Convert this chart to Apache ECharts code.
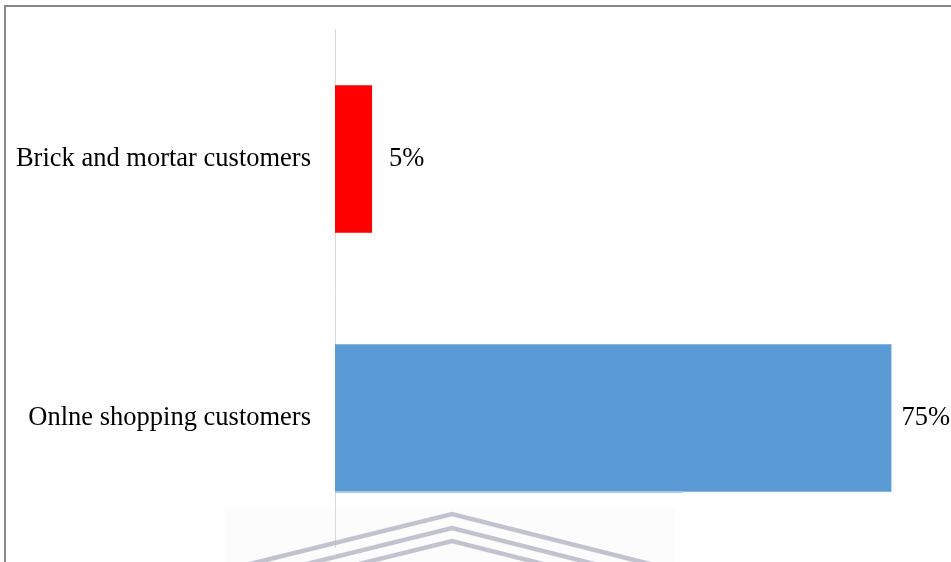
<!DOCTYPE html>
<html>
<head>
<meta charset="utf-8">
<script src="https://cdn.jsdelivr.net/npm/echarts@6/dist/echarts.min.js"></script>
<style>
  html, body { margin: 0; padding: 0; background: #fff; }
  #chart { width: 951px; height: 562px; }
</style>
</head>
<body>
<div id="chart"></div>
<script>
// Share of customers by shopping channel
const categories = ['Brick and mortar customers', 'Onlne shopping customers'];
const shares = [5, 75];
const barColors = ['#ff0000', '#5b9bd5'];

const chart = echarts.init(document.getElementById('chart'));

// Faint chevron emblem near the bottom edge
const chevrons = [514, 528, 541].map(function (y) {
  return {
    type: 'polyline',
    silent: true,
    z: 1,
    shape: { points: [[250, y + 50], [452, y], [650, y + 50]] },
    style: { stroke: '#b4b4c4', lineWidth: 4.5, fill: null, opacity: 0.8 }
  };
});

chart.setOption({
  animation: false,
  backgroundColor: '#ffffff',
  grid: { left: 335, right: 22.5, top: 29.5, bottom: 14.5, containLabel: false },
  xAxis: {
    type: 'value',
    min: 0,
    max: 80,
    show: false
  },
  yAxis: {
    type: 'category',
    data: categories,
    inverse: true,
    axisLine: { show: true, lineStyle: { color: '#d9d9d9', width: 1 } },
    axisTick: { show: false },
    axisLabel: {
      margin: 24,
      color: '#000',
      fontFamily: 'Liberation Serif',
      fontSize: 26.5,
      padding: [4, 0, 0, 0]
    }
  },
  series: [{
    type: 'bar',
    barWidth: '57%',
    data: shares.map(function (v, i) {
      return {
        value: v,
        itemStyle: { color: barColors[i] },
        label: { distance: i === 0 ? 17 : 10 }
      };
    }),
    label: {
      show: true,
      position: 'right',
      formatter: '{c}%',
      color: '#000',
      fontFamily: 'Liberation Serif',
      fontSize: 26.5,
      padding: [4, 0, 0, 0]
    },
    z: 2
  }],
  graphic: [
    {
      type: 'rect',
      silent: true,
      z: 0,
      shape: { x: 225, y: 508, width: 450, height: 60 },
      style: { fill: '#fcfcfd' }
    },
    {
      type: 'line',
      silent: true,
      z: 5,
      shape: { x1: 335, y1: 492, x2: 683, y2: 492 },
      style: { stroke: '#a8c6e6', lineWidth: 2 }
    }
  ].concat(chevrons).concat([
    {
      type: 'rect',
      silent: true,
      z: 10,
      shape: { x: 5, y: 6, width: 960, height: 580 },
      style: { fill: null, stroke: '#888888', lineWidth: 2 }
    }
  ])
});
</script>
</body>
</html>
